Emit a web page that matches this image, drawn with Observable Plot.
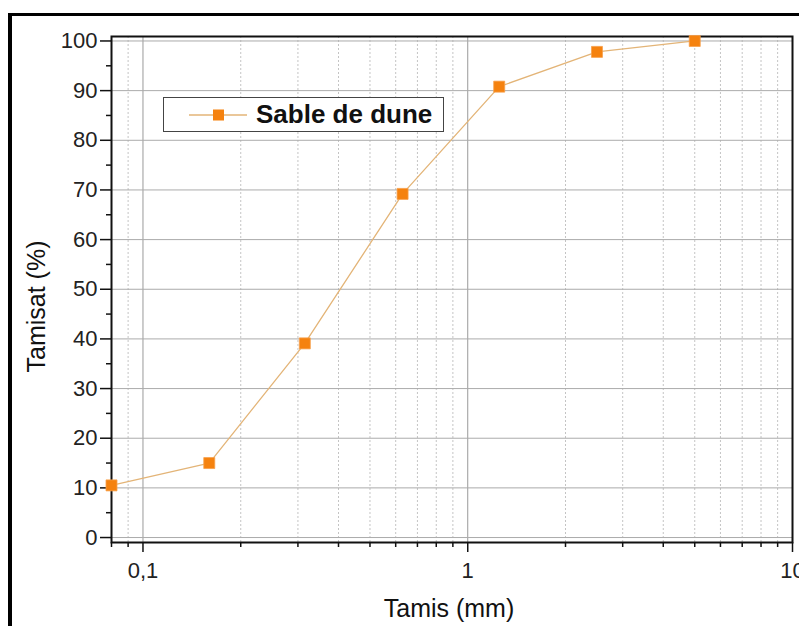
<!DOCTYPE html>
<html>
<head>
<meta charset="utf-8">
<script src="https://cdn.jsdelivr.net/npm/d3@7"></script>
<script src="https://cdn.jsdelivr.net/npm/@observablehq/plot@0.6"></script>
<style>
  html, body { margin: 0; padding: 0; background: #fff; }
  #wrap { position: relative; width: 799px; height: 626px; overflow: hidden; background: #fff; }
  #outer { position: absolute; left: 8px; top: 13px; width: 900px; height: 800px;
           border-left: 4px solid #000; border-top: 3px solid #000; box-sizing: border-box; pointer-events: none; }
  #legend { position: absolute; left: 163px; top: 97px; width: 281px; height: 35px; box-sizing: border-box;
            border: 1px solid #444; background: #fff; display: flex; align-items: center;
            font-family: "Liberation Sans", Arial, sans-serif; }
  #legend span { font-weight: bold; font-size: 26px; color: #111; }
</style>
</head>
<body>
<div id="wrap">
  <div id="chart"></div>
  <div id="outer"></div>
  <div id="legend"></div>
</div>
<script>
// Data
const seriesName = "Sable de dune";
const sieve = [0.08, 0.16, 0.315, 0.63, 1.25, 2.5, 5];       // Tamis (mm)
const passing = [10.5, 15.0, 39.1, 69.2, 90.8, 97.8, 100.0]; // Tamisat (%)
const xMajorTicks = [0.1, 1, 10];
const xMinorTicks = [0.08, 0.09, 0.2, 0.3, 0.4, 0.5, 0.6, 0.7, 0.8, 0.9, 2, 3, 4, 5, 6, 7, 8, 9];
const yMajorTicks = [0, 10, 20, 30, 40, 50, 60, 70, 80, 90, 100];
const yMinorTicks = [5, 15, 25, 35, 45, 55, 65, 75, 85, 95];
const xLabel = "Tamis (mm)";
const yLabel = "Tamisat (%)";

const lineColor = "#e3b477";
const markerColor = "#f5820f";

const data = sieve.map((s, i) => ({sieve: s, passing: passing[i]}));
const fmt = d => String(d).replace(".", ",");

const chart = Plot.plot({
  width: 799,
  height: 626,
  marginLeft: 111,
  marginRight: 7,
  marginTop: 36,
  marginBottom: 84,
  style: {fontFamily: "'Liberation Sans', Arial, sans-serif", background: "#fff", color: "#222", overflow: "visible"},
  x: {type: "log", domain: [0.08, 10], axis: null},
  y: {domain: [-1, 100.9], axis: null},
  marks: [
    Plot.ruleX(xMinorTicks.filter(d => d > 0.08), {stroke: "#c4c4c4", strokeDasharray: "2,2", strokeWidth: 1}),
    Plot.ruleX(xMajorTicks.filter(d => d < 10), {stroke: "#9a9a9a", strokeWidth: 1}),
    Plot.ruleY(yMajorTicks, {stroke: "#ababab", strokeWidth: 1}),
    Plot.axisY({ticks: yMajorTicks, tickSize: 11, tickPadding: 3, fontSize: 22, label: null, stroke: "#111", strokeWidth: 1.5}),
    Plot.axisY({ticks: yMinorTicks, tickSize: 5, tickFormat: () => "", label: null, stroke: "#111", strokeWidth: 1.5}),
    Plot.axisX({ticks: xMajorTicks, tickSize: 10, tickPadding: 10, fontSize: 22, tickFormat: fmt, label: null, stroke: "#111", strokeWidth: 1.5}),
    Plot.axisX({ticks: xMinorTicks, tickSize: 5, tickFormat: () => "", label: null, stroke: "#111", strokeWidth: 1.5}),
    Plot.frame({stroke: "#111", strokeWidth: 2}),
    Plot.line(data, {x: "sieve", y: "passing", stroke: lineColor, strokeWidth: 1.3}),
    Plot.dot(data, {x: "sieve", y: "passing", symbol: "square", r: 6.2, fill: markerColor, stroke: "#f7a04a", strokeWidth: 0.8}),
    Plot.text([xLabel], {frameAnchor: "bottom", textAnchor: "middle", lineAnchor: "middle", dx: -3, dy: 66, fontSize: 25, fill: "#111"}),
    Plot.text([yLabel], {frameAnchor: "left", textAnchor: "middle", lineAnchor: "middle", rotate: -90, dx: -75, dy: 17, fontSize: 25, fill: "#111"})
  ]
});
document.getElementById("chart").appendChild(chart);

// Legend
const lg = d3.select("#legend");
const ls = lg.append("svg").attr("width", 92).attr("height", 33);
ls.append("line").attr("x1", 25).attr("x2", 83).attr("y1", 17).attr("y2", 17)
  .attr("stroke", lineColor).attr("stroke-width", 1.3);
ls.append("rect").attr("x", 49).attr("y", 11.5).attr("width", 11).attr("height", 11)
  .attr("fill", markerColor);
lg.append("span").text(seriesName);
</script>
</body>
</html>
